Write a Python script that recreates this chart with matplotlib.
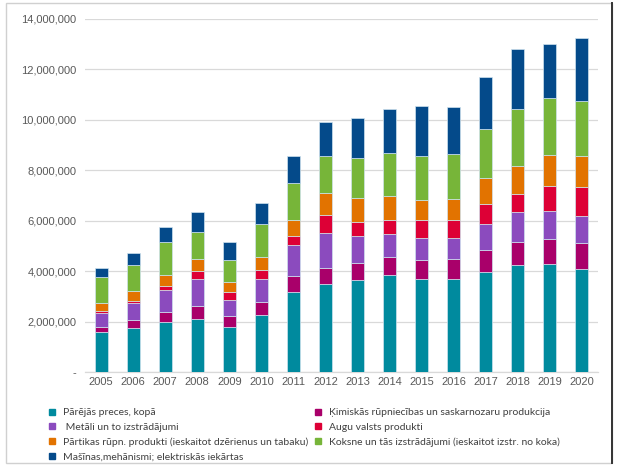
import matplotlib
matplotlib.use("Agg")
import matplotlib.pyplot as plt
from matplotlib.lines import Line2D
from matplotlib.patches import Rectangle
from matplotlib.ticker import FuncFormatter
import numpy as np

years = ["2005", "2006", "2007", "2008", "2009", "2010", "2011", "2012",
         "2013", "2014", "2015", "2016", "2017", "2018", "2019", "2020"]

labels = [
    "Pārējās preces, kopā",
    "Ķimiskās rūpniecības un saskarnozaru produkcija",
    " Metāli un to izstrādājumi",
    "Augu valsts produkti",
    "Pārtikas rūpn. produkti (ieskaitot dzērienus un tabaku)",
    "Koksne un tās izstrādājumi (ieskaitot izstr. no koka)",
    "Mašīnas,mehānismi; elektriskās iekārtas",
]

# values in millions
pareja = [1.57, 1.75, 1.98, 2.09, 1.79, 2.27, 3.17, 3.49, 3.65, 3.85, 3.69, 3.68, 3.98, 4.25, 4.30, 4.08]
kimiskas = [0.23, 0.31, 0.41, 0.53, 0.43, 0.49, 0.64, 0.64, 0.69, 0.70, 0.74, 0.80, 0.87, 0.92, 0.99, 1.04]
metali = [0.53, 0.69, 0.86, 1.06, 0.64, 0.93, 1.23, 1.39, 1.04, 0.94, 0.89, 0.83, 1.01, 1.17, 1.11, 1.08]
augu = [0.09, 0.08, 0.16, 0.32, 0.31, 0.37, 0.37, 0.71, 0.58, 0.55, 0.72, 0.73, 0.79, 0.70, 0.98, 1.14]
partikas = [0.31, 0.37, 0.43, 0.48, 0.41, 0.50, 0.63, 0.85, 0.93, 0.96, 0.80, 0.84, 1.06, 1.13, 1.23, 1.24]
koksne = [1.03, 1.05, 1.31, 1.06, 0.85, 1.29, 1.45, 1.48, 1.60, 1.69, 1.72, 1.78, 1.92, 2.28, 2.25, 2.17]
masinas = [0.38, 0.46, 0.62, 0.80, 0.73, 0.86, 1.08, 1.35, 1.58, 1.73, 1.97, 1.86, 2.05, 2.35, 2.14, 2.48]

series = [pareja, kimiskas, metali, augu, partikas, koksne, masinas]
colors = ["#008A9E", "#A9006A", "#8B4BBE", "#DD0036", "#E27300", "#77B539", "#044A8A"]

fig = plt.figure(figsize=(6.19, 4.71), dpi=100)
ax = fig.add_axes([85 / 619, 1 - 372 / 471, 513 / 619, 353 / 471])

x = np.arange(len(years))
bottom = np.zeros(len(years))
handles = []
for vals, col, lab in zip(series, colors, labels):
    v = np.array(vals) * 1e6
    ax.bar(x, v, width=0.405, bottom=bottom, color=col, edgecolor="#cfe3ee",
           linewidth=0.5, zorder=3)
    bottom += v
    handles.append(Line2D([], [], marker="s", linestyle="none", markersize=4.4,
                          markerfacecolor=col, markeredgecolor=col, label=lab))

ax.set_xlim(-0.5, 15.5)
ax.set_ylim(0, 14e6)
ax.set_yticks(np.arange(0, 14e6 + 1, 2e6))
ax.yaxis.set_major_formatter(FuncFormatter(lambda v, p: "-" if v == 0 else f"{v:,.0f}"))
ax.set_xticks(x)
ax.set_xticklabels(years)
ax.grid(axis="y", color="#D9D9D9", linewidth=0.9, zorder=0)
for s in ["top", "right", "left"]:
    ax.spines[s].set_visible(False)
ax.spines["bottom"].set_color("#D9D9D9")
ax.spines["bottom"].set_linewidth(0.9)
ax.tick_params(axis="both", length=0, labelsize=8, labelcolor="#595959")
ax.tick_params(axis="y", pad=6)
ax.tick_params(axis="x", pad=3.5)
for t in ax.get_xticklabels() + ax.get_yticklabels():
    t.set_fontfamily("Liberation Sans")

leg_font = {"family": "Lato", "size": 7.5}
col1 = [handles[i] for i in (0, 2, 4, 6)]
col2 = [handles[i] for i in (1, 3, 5)]
common = dict(frameon=False, handlelength=0.6, handletextpad=0.75, labelspacing=0.52,
              borderpad=0, borderaxespad=0, prop=leg_font, labelcolor="#404040")
fig.legend(handles=col1, loc="upper left", bbox_to_anchor=(49 / 619, 1 - 408 / 471), **common)
fig.legend(handles=col2, loc="upper left", bbox_to_anchor=(315 / 619, 1 - 408 / 471), **common)

# outer frame
fig.add_artist(Rectangle((6 / 619, 1 - 463 / 471), 606 / 619, 460 / 471,
                         transform=fig.transFigure, fill=False,
                         edgecolor="#D0D0D0", linewidth=1.0))
fig.add_artist(Line2D([612 / 619, 612 / 619], [1 - 463 / 471, 1 - 3 / 471],
                      transform=fig.transFigure, color="#333333", linewidth=1.4))

fig.savefig("out.png", dpi=100, facecolor="white")
